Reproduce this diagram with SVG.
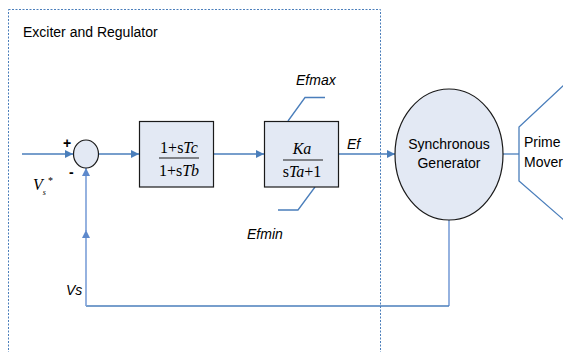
<svg xmlns="http://www.w3.org/2000/svg" width="563" height="352" viewBox="0 0 563 352">
<defs>
<style>
.blk{fill:#e3e9f4;stroke:#1a1a1a;stroke-width:1.2}
.ln{fill:none;stroke:#4a7ebb;stroke-width:1.3}
.fb{fill:none;stroke:#7b9fd8;stroke-width:1.6}
.sans{font-family:"Liberation Sans",Arial,sans-serif;font-size:14px;fill:#000}
.it{font-style:italic}
.ser{font-family:"Liberation Serif","Times New Roman",serif;font-size:16px;fill:#000}
</style>
<marker id="ah" viewBox="0 0 10 10" refX="10" refY="5" markerWidth="8" markerHeight="8" markerUnits="userSpaceOnUse" orient="auto">
<path d="M0,0 L10,5 L0,10 z" fill="#4a7ebb"/>
</marker>
<marker id="ah2" viewBox="0 0 10 10" refX="10" refY="5" markerWidth="10" markerHeight="8" markerUnits="userSpaceOnUse" orient="auto">
<path d="M0,0 L10,5 L0,10 z" fill="#5d89cc"/>
</marker>
</defs>

<g id="exciter-frame">
<rect x="8.5" y="9.5" width="372" height="360" fill="none" stroke="#4a7ebb" stroke-width="1" stroke-dasharray="2,1.5"/>
<text class="sans" x="23" y="37">Exciter and Regulator</text>
</g>

<g id="connectors">
<line class="ln" x1="22" y1="154" x2="73" y2="154" marker-end="url(#ah)"/>
<line class="ln" x1="98" y1="154" x2="139" y2="154" marker-end="url(#ah)"/>
<line class="ln" x1="213" y1="154" x2="264" y2="154" marker-end="url(#ah)"/>
<line class="ln" x1="338" y1="154" x2="395" y2="154" marker-end="url(#ah)"/>
<line class="ln" x1="503" y1="154" x2="519" y2="154"/>
<path class="fb" d="M449,220 V306"/>
<path class="ln" d="M449,306 H86"/>
<path class="fb" d="M86,306 V230" marker-end="url(#ah2)"/>
<path class="fb" d="M86,232 V168" marker-end="url(#ah2)"/>
<polyline class="ln" points="325,97.5 305,97.5 288,121"/>
<polyline class="ln" points="315,187 298,210 278,210"/>
</g>

<g id="sum">
<ellipse class="blk" cx="86" cy="154" rx="12.5" ry="14"/>
<text class="sans" x="63" y="148" font-weight="bold" font-size="15">+</text>
<text class="sans" x="69" y="177" font-weight="bold" font-size="15">-</text>
<text class="ser it" x="33" y="190" font-size="15" fill="#333">V<tspan dx="0" dy="5" font-size="8">s</tspan><tspan dx="2" dy="-11" font-size="10" font-style="normal">*</tspan></text>
</g>

<g id="lead-lag">
<rect class="blk" x="139.5" y="121.5" width="74" height="65.5"/>
<line x1="159" y1="158" x2="199" y2="158" stroke="#1a1a1a" stroke-width="1"/>
<text class="ser" x="179" y="153" text-anchor="middle">1+s<tspan font-style="italic">Tc</tspan></text>
<text class="ser" x="179" y="176" text-anchor="middle">1+s<tspan font-style="italic">Tb</tspan></text>
</g>

<g id="exciter">
<rect class="blk" x="264.5" y="121.5" width="74" height="65.5"/>
<line x1="283" y1="160" x2="323" y2="160" stroke="#1a1a1a" stroke-width="1"/>
<text class="ser it" x="302" y="154" text-anchor="middle">Ka</text>
<text class="ser" x="302" y="177" text-anchor="middle">s<tspan font-style="italic">Ta</tspan>+1</text>
<text class="sans it" x="296" y="85">Efmax</text>
<text class="sans it" x="247" y="239">Efmin</text>
<text class="sans it" x="347" y="149">Ef</text>
</g>

<g id="generator">
<ellipse class="blk" cx="449" cy="154.5" rx="54" ry="65.5"/>
<text class="sans" x="449" y="149" text-anchor="middle">Synchronous</text>
<text class="sans" x="449" y="168" text-anchor="middle">Generator</text>
</g>

<g id="prime-mover">
<polyline class="ln" points="565,84 519,127 519,181 565,221"/>
<text class="sans" x="524" y="147">Prime</text>
<text class="sans" x="524" y="167">Mover</text>
</g>

<g id="feedback-label">
<text class="sans it" x="66" y="295">Vs</text>
</g>
</svg>
